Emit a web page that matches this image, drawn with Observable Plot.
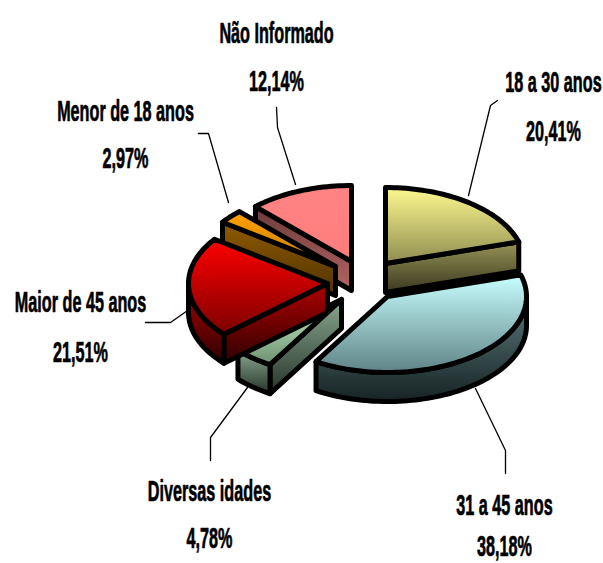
<!DOCTYPE html>
<html lang="pt">
<head>
<meta charset="utf-8">
<script src="https://cdn.jsdelivr.net/npm/d3@7"></script>
<script src="https://cdn.jsdelivr.net/npm/@observablehq/plot@0.6"></script>
<style>
  html, body { margin: 0; padding: 0; background: #fff; }
  svg { display: block; }
</style>
</head>
<body>
<script>
// Faixas etárias, clockwise from twelve o'clock
const categories = ["18 a 30 anos", "31 a 45 anos", "Diversas idades", "Maior de 45 anos", "Menor de 18 anos", "Não Informado"];
const shares = [20.41, 38.18, 4.78, 21.51, 2.97, 12.14];
const shareLabels = ["20,41%", "38,18%", "4,78%", "21,51%", "2,97%", "12,14%"];

// Gradient stops per slice: top face (upper, lower), side faces (upper, lower)
const topColors = [["#fdf98f", "#8f8c50"], ["#c8ffff", "#5f8386"], ["#c4f5c4", "#6f8f73"], ["#ff0000", "#7d0000"], ["#ffa000", "#c87f00"], ["#ff8484", "#ff7c7c"]];
const sideColors = [["#979457", "#3a3820"], ["#5d7a7c", "#162324"], ["#8aa88f", "#26332a"], ["#b00000", "#2f0000"], ["#8f5a00", "#4f3200"], ["#6d3a3a", "#b56464"]];

// Exploded apex of each slice, in page units
const apexX = [385, 387, 341, 327, 335, 351];
const apexY = [263, 296, 299, 283, 266, 261];
const radiusX = 139, radiusY = 76, depth = 29;

// Leader lines and label anchors
const leaders = [
  [[497, 100], [490, 105], [468, 195]],
  [[475, 388], [505, 450], [505, 473]],
  [[247, 387], [210, 437], [210, 460]],
  [[145, 322], [170, 322], [190, 308]],
  [[198, 133], [208, 133], [228, 202]],
  [[276, 107], [277, 127], [295, 184]]
];
const labelX = [553, 504, 209, 80, 125, 276];
const nameY = [82, 505, 491, 302, 111, 33];
const valueY = [131, 546, 538, 352, 158, 81];

// Glyphs are set tall and condensed to this share of their natural width
const condense = 0.54;

const total = d3.sum(shares);
const cumulative = d3.cumsum(shares);
const spans = shares.map((_, i) => [
  ((i ? cumulative[i - 1] : 0) / total) * 2 * Math.PI,
  (cumulative[i] / total) * 2 * Math.PI
]);

const rim = (i, a, dz = 0) => ({
  x: apexX[i] + radiusX * Math.sin(a),
  y: apexY[i] - radiusY * Math.cos(a) + dz
});
const apex = (i, dz = 0) => ({x: apexX[i], y: apexY[i] + dz});
const arc = (i, a0, a1, dz = 0) => {
  const n = Math.max(2, Math.ceil((a1 - a0) / 0.03));
  return d3.range(n + 1).map((k) => rim(i, a0 + ((a1 - a0) * k) / n, dz));
};
const closed = (pts) => [...pts, pts[0]];

// Extruded faces turned towards the viewer, then the top face of each slice
function facesOf(i) {
  const [a0, a1] = spans[i];
  const faces = [];
  if (Math.sin(a0) < -1e-6) faces.push(closed([apex(i), rim(i, a0), rim(i, a0, depth), apex(i, depth)]));
  if (Math.sin(a1) > 1e-6) faces.push(closed([apex(i), rim(i, a1), rim(i, a1, depth), apex(i, depth)]));
  const f0 = Math.max(a0, Math.PI / 2), f1 = Math.min(a1, 1.5 * Math.PI);
  if (f1 > f0) faces.push(closed([...arc(i, f0, f1), ...arc(i, f0, f1, depth).reverse()]));
  return {sides: faces, top: closed([apex(i), ...arc(i, a0, a1)])};
}

// Slices painted from the back of the pie to its front
const paintOrder = [5, 4, 2, 3, 0, 1];

const gradients = () => {
  const defs = d3.create("svg:defs");
  const add = (id, [c0, c1]) => {
    const g = defs.append("linearGradient").attr("id", id).attr("x1", 0).attr("y1", 0).attr("x2", 0).attr("y2", 1);
    g.append("stop").attr("offset", "0%").attr("stop-color", c0);
    g.append("stop").attr("offset", "100%").attr("stop-color", c1);
  };
  topColors.forEach((c, i) => add(`top-${i}`, c));
  sideColors.forEach((c, i) => add(`side-${i}`, c));
  return defs.node();
};

const outline = {x: "x", y: "y", stroke: "#000", strokeWidth: 5, strokeLinejoin: "round"};
const sliceMarks = paintOrder.flatMap((i) => {
  const {sides, top} = facesOf(i);
  return [
    ...sides.map((f) => Plot.line(f, {...outline, fill: `url(#side-${i})`})),
    Plot.line(top, {...outline, fill: `url(#top-${i})`})
  ];
});

const labelStyle = {
  fontFamily: "'Liberation Sans', sans-serif",
  fontWeight: 700,
  fontSize: 30,
  fill: "#000",
  stroke: "#000",
  strokeWidth: 0.7,
  textAnchor: "middle"
};

const chart = Plot.plot({
  width: 603,
  height: 563,
  margin: 0,
  style: {background: "#fff"},
  x: {domain: [0, 603], range: [0, 603], axis: null},
  y: {domain: [0, 563], range: [0, 563], axis: null},
  marks: [
    gradients,
    ...leaders.map((l) => Plot.line(l, {x: (d) => d[0], y: (d) => d[1], stroke: "#000", strokeWidth: 1.3})),
    ...sliceMarks,
    Plot.text(categories, {x: (_, i) => labelX[i], y: (_, i) => nameY[i], text: (d) => d, ...labelStyle}),
    Plot.text(shareLabels, {x: (_, i) => labelX[i], y: (_, i) => valueY[i], text: (d) => d, ...labelStyle})
  ]
});
document.body.append(chart);

// Condense the labels horizontally about their anchors
d3.select(chart).selectAll("text").each(function () {
  const placed = this.getAttribute("transform") || "";
  this.setAttribute("transform", `${placed} scale(${condense},1)`);
});
</script>
</body>
</html>
